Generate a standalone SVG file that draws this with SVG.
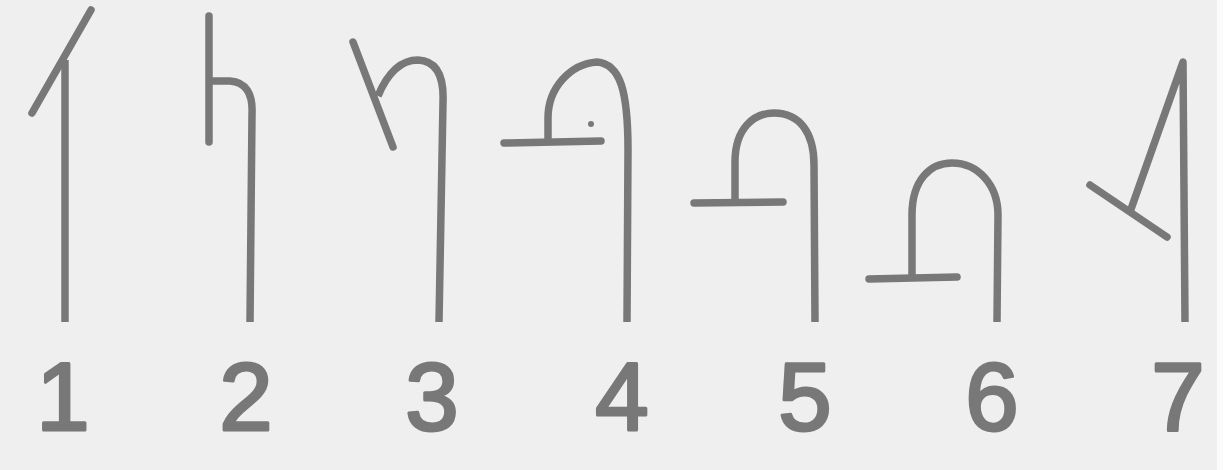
<svg xmlns="http://www.w3.org/2000/svg" width="1223" height="470" viewBox="0 0 1223 470">
<style>
.s{fill:none;stroke:#787878;stroke-width:7.5;stroke-linecap:round;stroke-linejoin:round}
.b{fill:none;stroke:#787878;stroke-width:7.5;stroke-linecap:butt;stroke-linejoin:round}
.n{font-family:"Liberation Sans",Arial,sans-serif;font-size:96px;font-weight:normal;fill:#787878;stroke:#787878;stroke-width:3;stroke-linejoin:round;text-anchor:middle}
</style>
<rect x="0" y="0" width="1223" height="470" fill="#efefef"/>
<rect x="1217" y="0" width="6" height="470" fill="#fbfbfb"/>
<g id="glyph1">
<path class="b" d="M65,60 L65,322"/>
<path class="s" d="M32,113 L91,10"/>
<text class="n" x="63" y="430">1</text>
</g>
<g id="glyph2">
<path class="s" d="M209,16 L209,142"/>
<path class="b" d="M209,81 L230,81 C246,82 253,94 252,114 L250,322"/>
<text class="n" x="246" y="430">2</text>
</g>
<g id="glyph3">
<path class="s" d="M353,42 L393,147"/>
<path class="b" d="M378,96 C388,72 402,60 418,60 C438,61 444,78 443,102 L439,322"/>
<text class="n" x="432" y="430">3</text>
</g>
<g id="glyph4">
<path class="s" d="M504,143 L601,141"/>
<path class="b" d="M548,141 L548,118 C548,88 570,64 597,62 C620,64 628,90 628,150 L627,322"/>
<circle cx="591" cy="124" r="3" fill="#787878"/>
<text class="n" x="622" y="430">4</text>
</g>
<g id="glyph5">
<path class="s" d="M694,203 L783,202"/>
<path class="b" d="M735,202 L735,162 C735,128 754,113 774,113 C800,113 814,133 814,165 L815,322"/>
<text class="n" x="805" y="430">5</text>
</g>
<g id="glyph6">
<path class="s" d="M869,279 L957,277"/>
<path class="b" d="M912,278 L912,215 C912,180 930,163 952,163 C978,163 998,185 998,215 L997,322"/>
<text class="n" x="992" y="430">6</text>
</g>
<g id="glyph7">
<path class="b" d="M1130,212 L1183,62 L1185,322"/>
<path class="s" d="M1090,185 L1167,237"/>
<text class="n" x="1178" y="430">7</text>
</g>
</svg>
